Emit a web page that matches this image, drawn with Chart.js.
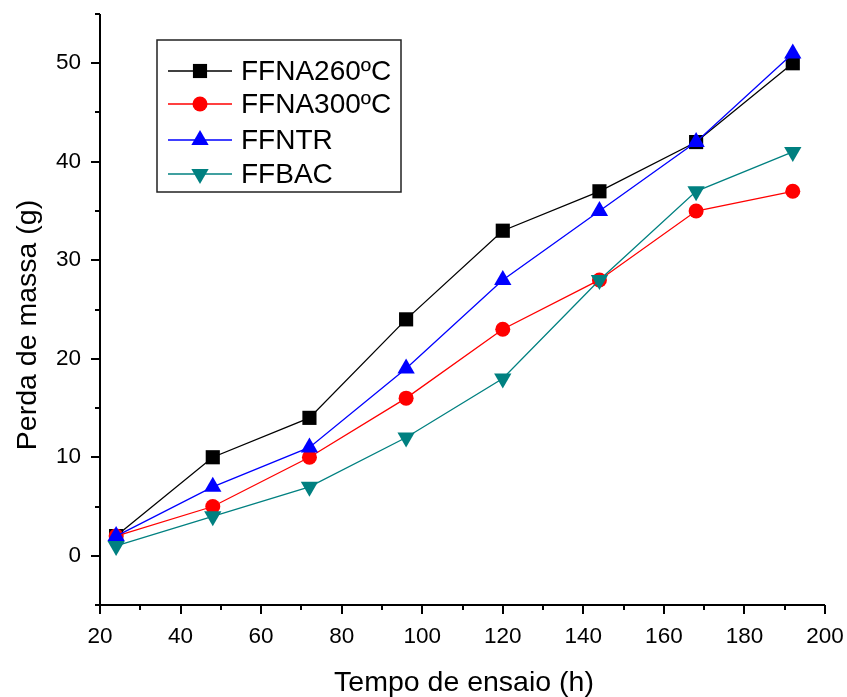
<!DOCTYPE html>
<html>
<head>
<meta charset="utf-8">
<script src="https://cdn.jsdelivr.net/npm/chart.js@4.4.1/dist/chart.umd.min.js"></script>
<style>
  html, body { margin: 0; padding: 0; background: #fff; }
  #wrap { width: 847px; height: 697px; }
</style>
</head>
<body>
<div id="wrap"><canvas id="chart" width="847" height="697"></canvas></div>
<script>
// tempo de ensaio (h)
const hours = [24, 48, 72, 96, 120, 144, 168, 192];

// perda de massa (g)
const ffna260 = [2, 10, 14, 24, 33, 37, 42, 50];
const ffna300 = [2, 5, 10, 16, 23, 28, 35, 37];
const ffntr   = [2, 7, 11, 19, 28, 35, 42, 51];
const ffbac   = [1, 4, 7, 12, 18, 28, 37, 41];

const xTicks = [20, 40, 60, 80, 100, 120, 140, 160, 180, 200];
const yTicks = [0, 10, 20, 30, 40, 50];

const FONT = '"Liberation Sans", Arial, sans-serif';

function pts(vals) {
    return vals.map((v, i) => ({ x: hours[i], y: v }));
}

const series = [
    { label: 'FFNA260ºC', data: ffna260, color: '#000000', style: 'rect', radius: 10, rot: 0, order: 4 },
    { label: 'FFNA300ºC', data: ffna300, color: '#ff0000', style: 'circle', radius: 7.5, rot: 0, order: 3 },
    { label: 'FFNTR', data: ffntr, color: '#0000ff', style: 'triangle', radius: 10, rot: 0, order: 2 },
    { label: 'FFBAC', data: ffbac, color: '#008080', style: 'triangle', radius: 10, rot: 180, order: 1 }
];

// eixos estilo Origin: so esquerda/baixo, ticks para fora, maiores e menores
const axesPlugin = {
    id: 'originAxes',
    afterDraw(chart) {
        const ctx = chart.ctx;
        const xs = chart.scales.x, ys = chart.scales.y;
        const a = chart.chartArea;
        ctx.save();
        ctx.strokeStyle = '#000';
        ctx.lineWidth = 2;
        ctx.beginPath();
        ctx.moveTo(a.left, a.top);
        ctx.lineTo(a.left, a.bottom);
        ctx.lineTo(a.right, a.bottom);
        ctx.stroke();

        // ticks y
        for (let v = -5; v <= 55; v += 5) {
            const py = Math.round(ys.getPixelForValue(v));
            const major = v % 10 === 0;
            ctx.beginPath();
            ctx.moveTo(a.left, py);
            ctx.lineTo(a.left - (major ? 9 : 5), py);
            ctx.stroke();
        }
        // ticks x
        for (let v = 20; v <= 200; v += 10) {
            const px = Math.round(xs.getPixelForValue(v));
            const major = v % 20 === 0;
            ctx.beginPath();
            ctx.moveTo(px, a.bottom);
            ctx.lineTo(px, a.bottom + (major ? 9 : 5));
            ctx.stroke();
        }

        ctx.fillStyle = '#000';
        ctx.font = '22.5px ' + FONT;
        ctx.textAlign = 'right';
        ctx.textBaseline = 'middle';
        yTicks.forEach(v => ctx.fillText(String(v), a.left - 19, ys.getPixelForValue(v)));
        ctx.textAlign = 'center';
        ctx.textBaseline = 'middle';
        xTicks.forEach(v => ctx.fillText(String(v), xs.getPixelForValue(v), a.bottom + 32));

        // titulos
        ctx.font = '28.5px ' + FONT;
        ctx.fillText('Tempo de ensaio (h)', 464, a.bottom + 78);
        ctx.save();
        ctx.translate(28, 325);
        ctx.rotate(-Math.PI / 2);
        ctx.fillText('Perda de massa (g)', 0, 0);
        ctx.restore();

        // legenda
        const bx = 157, by = 40, bw = 244, bh = 152;
        ctx.lineWidth = 1.5;
        ctx.strokeStyle = '#222';
        ctx.strokeRect(bx, by, bw, bh);
        const rows = [71, 104, 140, 174];
        ctx.font = '28px ' + FONT;
        ctx.textAlign = 'left';
        series.forEach((s, i) => {
            const ry = rows[i];
            ctx.strokeStyle = s.color;
            ctx.lineWidth = 1.3;
            ctx.beginPath();
            ctx.moveTo(168, ry);
            ctx.lineTo(232, ry);
            ctx.stroke();
            ctx.fillStyle = s.color;
            Chart.helpers.drawPoint(ctx, { pointStyle: s.style, radius: s.radius, rotation: s.rot, borderWidth: 0 }, 200, ry);
            ctx.fillStyle = '#000';
            ctx.fillText(s.label, 241, ry + 1);
        });
        ctx.restore();
    }
};

new Chart(document.getElementById('chart'), {
    type: 'line',
    data: {
        datasets: series.map(s => ({
            label: s.label,
            data: pts(s.data),
            borderColor: s.color,
            backgroundColor: s.color,
            borderWidth: 1.3,
            pointStyle: s.style,
            pointRadius: s.radius,
            pointRotation: s.rot,
            pointBorderWidth: 0,
            pointBackgroundColor: s.color,
            order: s.order,
            tension: 0
        }))
    },
    options: {
        responsive: false,
        animation: false,
        layout: { padding: { left: 100, right: 22, top: 14, bottom: 92 } },
        scales: {
            x: { type: 'linear', min: 20, max: 200, display: false },
            y: { type: 'linear', min: -5, max: 55, display: false }
        },
        plugins: {
            legend: { display: false },
            tooltip: { enabled: false }
        }
    },
    plugins: [axesPlugin]
});
</script>
</body>
</html>
